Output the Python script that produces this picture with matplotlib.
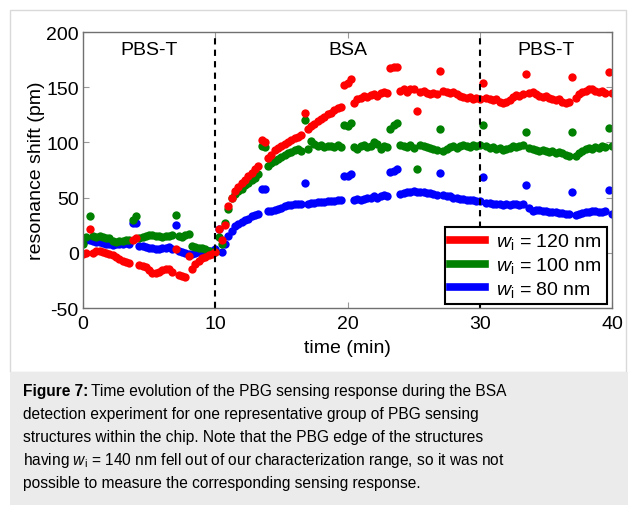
import numpy as np
import matplotlib
matplotlib.use("Agg")
import matplotlib.pyplot as plt
from matplotlib.lines import Line2D
from matplotlib.patches import Rectangle

plt.rcParams['font.family'] = ['Liberation Sans', 'DejaVu Sans']
plt.rcParams['mathtext.fontset'] = 'custom'
plt.rcParams['mathtext.rm'] = 'Liberation Sans'
plt.rcParams['mathtext.it'] = 'Liberation Sans:italic'
plt.rcParams['axes.unicode_minus'] = False

# sampling step of the measurement (min)
step = 0.25

red_120 = [
    -1, 0, 22, 0, 2, 2, 1, 0, -1, -2, -4,
    -6, -7, -8, -9, 12, 13, -11, -12, -13, -16,
    -18, -18, -17, -16, -15, -15, -17, 3, -20, -21,
    -22, -3, -15, -10, -7, -5, -4, -2, -1, 1,
    22, 12, 25, 42, 50, 56, 60, 63, 66, 70,
    72, 76, 79, 102, 100, 86, 89, 93, 95, 97,
    99, 100, 102, 104, 105, 107, 127, 112, 115, 117,
    119, 121, 123, 126, 127, 129, 131, 132, 152, 154,
    157, 136, 139, 140, 142, 141, 143, 144, 142, 145,
    146, 145, 167, 168, 168, 147, 148, 146, 148, 148,
    128, 146, 147, 145, 144, 145, 144, 165, 147, 146,
    145, 146, 144, 142, 141, 140, 141, 139, 140, 139,
    154, 140, 139, 138, 139, 137, 136, 137, 138, 141,
    143, 142, 144, 162, 145, 146, 144, 142, 141, 142,
    140, 139, 138, 139, 137, 136, 137, 159, 140, 144,
    146, 147, 148, 148, 147, 146, 147, 145, 164, 145,
]

green_100 = [
    8, 14, 33, 15, 14, 15, 14, 13, 13, 11, 10,
    11, 11, 12, 12, 30, 33, 13, 14, 15, 16,
    16, 15, 15, 14, 15, 15, 16, 34, 15, 14,
    16, 17, 6, 5, 4, 4, 3, 2, 1, 1,
    14, 8, 27, 40, 50, 53, 56, 58, 61, 63,
    66, 68, 71, 97, 96, 79, 81, 83, 85, 87,
    89, 90, 91, 93, 94, 92, 120, 94, 101, 99,
    97, 98, 96, 97, 97, 96, 98, 96, 116, 115,
    118, 96, 94, 97, 98, 96, 97, 100, 99, 94,
    97, 96, 112, 116, 118, 98, 97, 96, 98, 95,
    76, 98, 97, 96, 95, 94, 93, 112, 92, 94,
    96, 97, 95, 97, 98, 97, 96, 98, 97, 98,
    116, 97, 95, 96, 94, 95, 93, 94, 95, 97,
    96, 97, 98, 109, 95, 94, 93, 92, 93, 92,
    91, 92, 90, 91, 90, 89, 88, 109, 88, 90,
    92, 94, 95, 94, 96, 95, 97, 96, 113, 97,
]

blue_80 = [
    13, 12, 12, 11, 10, 10, 9, 8, 8, 7, 8,
    8, 8, 9, 8, 27, 27, 6, 6, 5, 4,
    4, 3, 3, 4, 4, 5, 3, 25, 2, 1,
    0, -1, -1, 0, 1, 1, 2, 2, 2, 3,
    22, 1, 8, 15, 20, 24, 26, 28, 30, 31,
    33, 34, 35, 58, 58, 38, 38, 39, 40, 41,
    42, 43, 43, 44, 44, 44, 63, 44, 45, 45,
    46, 46, 46, 47, 47, 47, 48, 48, 70, 70,
    71, 48, 49, 48, 49, 50, 50, 51, 50, 51,
    52, 51, 73, 74, 76, 53, 54, 55, 55, 56,
    55, 55, 55, 54, 54, 53, 52, 72, 52, 51,
    51, 50, 50, 49, 49, 48, 48, 48, 47, 47,
    69, 45, 45, 44, 44, 44, 43, 44, 43, 44,
    44, 43, 44, 61, 41, 38, 39, 39, 38, 38,
    37, 37, 37, 36, 36, 35, 35, 55, 34, 35,
    36, 37, 37, 38, 38, 37, 37, 38, 57, 35,
]

labels = ['$w_\\mathrm{i}$ = 120 nm', '$w_\\mathrm{i}$ = 100 nm', '$w_\\mathrm{i}$ = 80 nm']
phases = ['PBS-T', 'BSA', 'PBS-T']
phase_pos = [5, 20, 35]
switch_times = [10, 30]

caption = [
    'Time evolution of the PBG sensing response during the BSA',
    'detection experiment for one representative group of PBG sensing',
    'structures within the chip. Note that the PBG edge of the structures',
    'having $w_\\mathrm{i}$ = 140 nm fell out of our characterization range, so it was not',
    'possible to measure the corresponding sensing response.',
]

W, H = 628, 506
fs = 14
fig = plt.figure(figsize=(W / 100, H / 100), dpi=100)

# white panel with light border, grey caption box underneath
fig.patches.append(Rectangle((10 / W, 1 - 373 / H), 616 / W, 362 / H, transform=fig.transFigure,
                             facecolor='white', edgecolor='#d9d9d9', lw=1, zorder=-2))
fig.patches.append(Rectangle((10 / W, 0), 1, 1 - 373 / H, transform=fig.transFigure,
                             facecolor='#ebebeb', edgecolor='none', zorder=-1))

ax = fig.add_axes([83 / W, 1 - 309 / H, 529 / W, 276 / H])
t = np.arange(len(red_120)) * step

for vals, col in [(blue_80, 'blue'), (green_100, 'green'), (red_120, 'red')]:
    ax.plot(t, vals, 'o', color=col, ms=6, mew=0)

for x in switch_times:
    ax.axvline(x, color='black', ls='--', lw=1.5, dashes=(3, 2.5))

for name, xp in zip(phases, phase_pos):
    ax.text(xp, 184, name, ha='center', va='center', fontsize=fs)

ax.set_xlim(0, 40)
ax.set_ylim(-50, 200)
ax.set_xticks([0, 10, 20, 30, 40])
ax.set_yticks([-50, 0, 50, 100, 150, 200])
ax.tick_params(direction='in', top=True, right=True, length=4, width=0.8, color='#999999',
               labelsize=fs)
ax.tick_params(axis='x', pad=5)
ax.tick_params(axis='y', pad=3)
for s in ax.spines.values():
    s.set_color('#707070')
    s.set_linewidth(1)
ax.set_xlabel('time (min)', fontsize=fs, labelpad=5)
ax.set_ylabel('resonance shift (pm)', fontsize=fs, labelpad=1)

handles = [Line2D([], [], color=c, lw=5.5) for c in ['red', 'green', 'blue']]
leg = ax.legend(handles, labels, loc='lower right', bbox_to_anchor=(0.99, 0.014), borderaxespad=0,
                fontsize=fs, handlelength=1.8, handletextpad=0.6, labelspacing=0.2,
                borderpad=0.25, fancybox=False, framealpha=1, edgecolor='black')
leg.get_frame().set_linewidth(1.5)

# caption
cap_size = 11.2
baselines = [396, 419, 442, 465, 488]
fig.canvas.draw()
bold = fig.text(23 / W, 1 - baselines[0] / H, 'Figure 7:', fontsize=cap_size, weight='bold',
                va='baseline')
fig.canvas.draw()
bb = bold.get_window_extent()
fig.text((bb.x1 + 3) / W, 1 - baselines[0] / H, caption[0], fontsize=cap_size, va='baseline')
for line, yb in zip(caption[1:], baselines[1:]):
    fig.text(23 / W, 1 - yb / H, line, fontsize=cap_size, va='baseline')

fig.savefig('out.png', dpi=100)
